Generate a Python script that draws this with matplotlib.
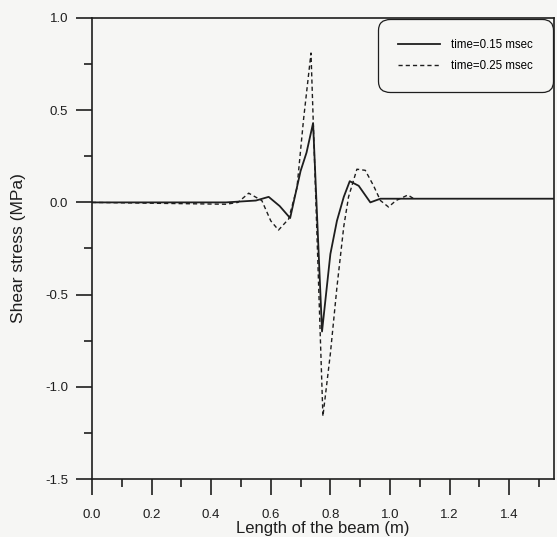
import numpy as np
import matplotlib.pyplot as plt
from matplotlib.ticker import MultipleLocator

plt.rcParams['font.family'] = ['Liberation Sans', 'DejaVu Sans']

# ---------------- data ----------------
x_015 = [0.0, 0.45, 0.55, 0.593, 0.63, 0.665, 0.70, 0.72, 0.742, 0.772,
         0.80, 0.822, 0.845, 0.865, 0.895, 0.934, 0.968, 1.0, 1.55]
y_015 = [0.0, 0.0, 0.01, 0.03, -0.02, -0.085, 0.17, 0.27, 0.43, -0.70,
         -0.28, -0.10, 0.03, 0.115, 0.09, 0.0, 0.02, 0.02, 0.02]

x_025 = [0.0, 0.45, 0.49, 0.526, 0.57, 0.60, 0.626, 0.66, 0.688, 0.71,
         0.735, 0.775, 0.80, 0.822, 0.845, 0.861, 0.889, 0.917, 0.945,
         0.968, 0.995, 1.02, 1.06, 1.08]
y_025 = [0.0, -0.01, 0.0, 0.05, 0.01, -0.10, -0.15, -0.09, 0.08, 0.45,
         0.81, -1.16, -0.82, -0.46, -0.13, 0.03, 0.18, 0.174, 0.09,
         0.01, -0.025, 0.01, 0.04, 0.02]

labels = ["time=0.15 msec", "time=0.25 msec"]

# ---------------- plot ----------------
bg = "#f6f6f4"
ink = "#1e1e1e"
fig = plt.figure(figsize=(5.57, 5.37), dpi=100, facecolor=bg)
ax = fig.add_axes([0.165, 0.108, 0.8295, 0.8585], facecolor=bg)

ax.plot(x_015, y_015, color=ink, linestyle="-", linewidth=1.3, label=labels[0])
ax.plot(x_025, y_025, color=ink, linestyle=(0, (3, 2.2)), linewidth=1.0, label=labels[1])

ax.set_xlim(0, 1.55)
ax.set_ylim(-1.5, 1.0)
ax.xaxis.set_major_locator(MultipleLocator(0.2))
ax.xaxis.set_minor_locator(MultipleLocator(0.1))
ax.yaxis.set_major_locator(MultipleLocator(0.5))
ax.yaxis.set_minor_locator(MultipleLocator(0.25))
ax.xaxis.set_major_formatter(plt.FormatStrFormatter("%.1f"))
ax.yaxis.set_major_formatter(plt.FormatStrFormatter("%.1f"))

ax.tick_params(which="major", direction="out", length=11.5, width=1.2,
               labelsize=9.5, colors=ink)
ax.tick_params(which="minor", direction="out", length=5.5, width=1.2, colors=ink)
ax.tick_params(axis="y", which="major", pad=5.5)
ax.tick_params(axis="x", which="major", pad=10)
for s in ax.spines.values():
    s.set_linewidth(1.2)
    s.set_color(ink)

ax.set_xlabel("Length of the beam (m)", fontsize=12, color=ink, labelpad=0)
ax.set_ylabel("Shear stress (MPa)", fontsize=12.5, color=ink, labelpad=14)

leg = ax.legend(loc="upper right", fontsize=8.3, frameon=True, fancybox=True,
                borderaxespad=0.05, borderpad=1.75, handlelength=3.6,
                handletextpad=1.0, labelspacing=0.8)
frame = leg.get_frame()
frame.set_boxstyle("round,pad=0,rounding_size=1.0")
frame.set_edgecolor(ink)
frame.set_facecolor(bg)
frame.set_linewidth(0.9)
frame.set_alpha(1)

fig.savefig("out.png", dpi=100, facecolor=fig.get_facecolor())
